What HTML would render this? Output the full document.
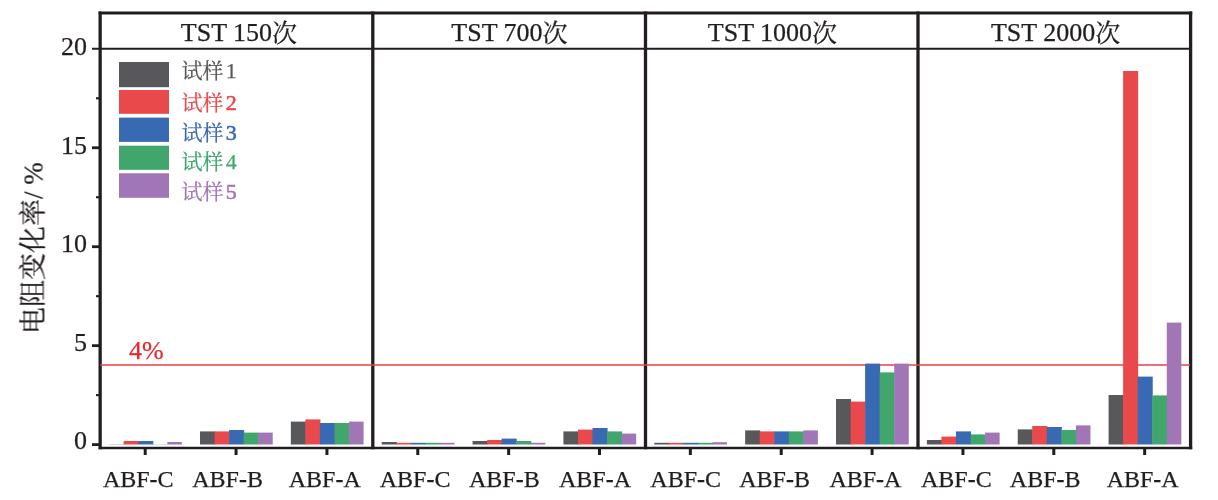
<!DOCTYPE html>
<html lang="zh"><head><meta charset="utf-8"><title>TST</title>
<style>html,body{margin:0;padding:0;background:#fff}svg{display:block}text{font-family:"Liberation Serif","Noto Serif CJK SC",serif;fill:#231f20;stroke:#231f20;stroke-width:0.25px}</style></head><body>
<svg width="1218" height="500" viewBox="0 0 1218 500">
<rect width="1218" height="500" fill="#fff"/>
<defs><filter id="soft" x="0" y="0" width="100%" height="100%" filterUnits="userSpaceOnUse"><feGaussianBlur stdDeviation="0.45"/></filter></defs><g filter="url(#soft)">
<line x1="100.15" x2="100.15" y1="11.4" y2="449.2" stroke="#231f20" stroke-width="3.3"/>
<line x1="372.8" x2="372.8" y1="11.4" y2="449.2" stroke="#231f20" stroke-width="3.3"/>
<line x1="645.5" x2="645.5" y1="11.4" y2="449.2" stroke="#231f20" stroke-width="3.3"/>
<line x1="918.0" x2="918.0" y1="11.4" y2="449.2" stroke="#231f20" stroke-width="3.3"/>
<line x1="1190.6" x2="1190.6" y1="11.4" y2="449.2" stroke="#231f20" stroke-width="3.3"/>
<line x1="98.7" x2="1192.2" y1="13" y2="13" stroke="#231f20" stroke-width="3"/>
<line x1="98.7" x2="1192.2" y1="448" y2="448" stroke="#231f20" stroke-width="2.5"/>
<line x1="92" x2="1190" y1="48.8" y2="48.8" stroke="#231f20" stroke-width="2"/>
<line x1="100.2" x2="1190" y1="365" y2="365" stroke="#ea4045" stroke-width="1.6"/>
<rect x="109.12" y="444.00" width="15.05" height="0.50" fill="#58585a" opacity="0.45"/>
<rect x="123.67" y="441.00" width="15.05" height="3.50" fill="#e9484b"/>
<rect x="138.22" y="441.00" width="15.05" height="3.50" fill="#3969b3"/>
<rect x="152.78" y="444.00" width="15.05" height="0.50" fill="#3fa66c" opacity="0.45"/>
<rect x="167.32" y="442.00" width="14.55" height="2.50" fill="#a176b6"/>
<rect x="199.99" y="431.40" width="15.05" height="13.10" fill="#58585a"/>
<rect x="214.54" y="431.40" width="15.05" height="13.10" fill="#e9484b"/>
<rect x="229.09" y="430.00" width="15.05" height="14.50" fill="#3969b3"/>
<rect x="243.64" y="432.60" width="15.05" height="11.90" fill="#3fa66c"/>
<rect x="258.19" y="432.60" width="14.55" height="11.90" fill="#a176b6"/>
<rect x="290.85" y="421.60" width="15.05" height="22.90" fill="#58585a"/>
<rect x="305.40" y="419.40" width="15.05" height="25.10" fill="#e9484b"/>
<rect x="319.95" y="423.00" width="15.05" height="21.50" fill="#3969b3"/>
<rect x="334.50" y="423.00" width="15.05" height="21.50" fill="#3fa66c"/>
<rect x="349.05" y="421.60" width="14.55" height="22.90" fill="#a176b6"/>
<rect x="381.70" y="442.00" width="15.05" height="2.50" fill="#58585a"/>
<rect x="396.25" y="442.80" width="15.05" height="1.70" fill="#e9484b"/>
<rect x="410.81" y="442.80" width="15.05" height="1.70" fill="#3969b3"/>
<rect x="425.36" y="442.80" width="15.05" height="1.70" fill="#3fa66c"/>
<rect x="439.90" y="442.80" width="14.55" height="1.70" fill="#a176b6"/>
<rect x="472.56" y="441.00" width="15.05" height="3.50" fill="#58585a"/>
<rect x="487.12" y="440.00" width="15.05" height="4.50" fill="#e9484b"/>
<rect x="501.67" y="438.60" width="15.05" height="5.90" fill="#3969b3"/>
<rect x="516.22" y="441.00" width="15.05" height="3.50" fill="#3fa66c"/>
<rect x="530.76" y="442.80" width="14.55" height="1.70" fill="#a176b6"/>
<rect x="563.42" y="431.40" width="15.05" height="13.10" fill="#58585a"/>
<rect x="577.97" y="429.60" width="15.05" height="14.90" fill="#e9484b"/>
<rect x="592.52" y="428.00" width="15.05" height="16.50" fill="#3969b3"/>
<rect x="607.07" y="431.40" width="15.05" height="13.10" fill="#3fa66c"/>
<rect x="621.62" y="433.60" width="14.55" height="10.90" fill="#a176b6"/>
<rect x="654.28" y="442.80" width="15.05" height="1.70" fill="#58585a"/>
<rect x="668.83" y="442.80" width="15.05" height="1.70" fill="#e9484b"/>
<rect x="683.38" y="442.80" width="15.05" height="1.70" fill="#3969b3"/>
<rect x="697.93" y="442.80" width="15.05" height="1.70" fill="#3fa66c"/>
<rect x="712.49" y="442.20" width="14.55" height="2.30" fill="#a176b6"/>
<rect x="745.14" y="430.40" width="15.05" height="14.10" fill="#58585a"/>
<rect x="759.69" y="431.40" width="15.05" height="13.10" fill="#e9484b"/>
<rect x="774.25" y="431.40" width="15.05" height="13.10" fill="#3969b3"/>
<rect x="788.79" y="431.40" width="15.05" height="13.10" fill="#3fa66c"/>
<rect x="803.35" y="430.40" width="14.55" height="14.10" fill="#a176b6"/>
<rect x="836.00" y="399.00" width="15.05" height="45.50" fill="#58585a"/>
<rect x="850.55" y="401.60" width="15.05" height="42.90" fill="#e9484b"/>
<rect x="865.11" y="363.60" width="15.05" height="80.90" fill="#3969b3"/>
<rect x="879.65" y="372.40" width="15.05" height="72.10" fill="#3fa66c"/>
<rect x="894.21" y="363.60" width="14.55" height="80.90" fill="#a176b6"/>
<rect x="926.87" y="440.00" width="15.05" height="4.50" fill="#58585a"/>
<rect x="941.41" y="436.60" width="15.05" height="7.90" fill="#e9484b"/>
<rect x="955.97" y="431.40" width="15.05" height="13.10" fill="#3969b3"/>
<rect x="970.51" y="434.40" width="15.05" height="10.10" fill="#3fa66c"/>
<rect x="985.07" y="432.60" width="14.55" height="11.90" fill="#a176b6"/>
<rect x="1017.72" y="429.40" width="15.05" height="15.10" fill="#58585a"/>
<rect x="1032.27" y="426.00" width="15.05" height="18.50" fill="#e9484b"/>
<rect x="1046.82" y="427.00" width="15.05" height="17.50" fill="#3969b3"/>
<rect x="1061.38" y="430.00" width="15.05" height="14.50" fill="#3fa66c"/>
<rect x="1075.92" y="425.40" width="14.55" height="19.10" fill="#a176b6"/>
<rect x="1108.59" y="395.00" width="15.05" height="49.50" fill="#58585a"/>
<rect x="1123.13" y="71.00" width="15.05" height="373.50" fill="#e9484b"/>
<rect x="1137.68" y="376.60" width="15.05" height="67.90" fill="#3969b3"/>
<rect x="1152.24" y="395.40" width="15.05" height="49.10" fill="#3fa66c"/>
<rect x="1166.79" y="322.60" width="14.55" height="121.90" fill="#a176b6"/>
<line x1="92" x2="100" y1="444.60" y2="444.60" stroke="#231f20" stroke-width="2.8"/>
<line x1="92" x2="100" y1="345.65" y2="345.65" stroke="#231f20" stroke-width="2.8"/>
<line x1="92" x2="100" y1="246.70" y2="246.70" stroke="#231f20" stroke-width="2.8"/>
<line x1="92" x2="100" y1="147.75" y2="147.75" stroke="#231f20" stroke-width="2.8"/>
<text x="87" y="449.1" font-size="26" text-anchor="end">0</text>
<text x="87" y="350.5" font-size="26" text-anchor="end">5</text>
<text x="87" y="251.8" font-size="26" text-anchor="end">10</text>
<text x="87" y="154" font-size="26" text-anchor="end">15</text>
<text x="87" y="55" font-size="26" text-anchor="end">20</text>
<line x1="96" x2="100" y1="395.12" y2="395.12" stroke="#231f20" stroke-width="2.1"/>
<line x1="96" x2="100" y1="296.18" y2="296.18" stroke="#231f20" stroke-width="2.1"/>
<line x1="96" x2="100" y1="197.23" y2="197.23" stroke="#231f20" stroke-width="2.1"/>
<line x1="96" x2="100" y1="98.28" y2="98.28" stroke="#231f20" stroke-width="2.1"/>
<line x1="145.20" x2="145.20" y1="448" y2="455" stroke="#231f20" stroke-width="3"/>
<text x="138.25" y="486.8" font-size="24" text-anchor="middle">ABF<tspan font-weight="bold">-</tspan>C</text>
<line x1="236.06" x2="236.06" y1="448" y2="455" stroke="#231f20" stroke-width="3"/>
<text x="227.60" y="486.8" font-size="24" text-anchor="middle">ABF<tspan font-weight="bold">-</tspan>B</text>
<line x1="326.92" x2="326.92" y1="448" y2="455" stroke="#231f20" stroke-width="3"/>
<text x="324.75" y="486.8" font-size="24" text-anchor="middle">ABF<tspan font-weight="bold">-</tspan>A</text>
<line x1="417.78" x2="417.78" y1="448" y2="455" stroke="#231f20" stroke-width="3"/>
<text x="415.05" y="486.8" font-size="24" text-anchor="middle">ABF<tspan font-weight="bold">-</tspan>C</text>
<line x1="508.64" x2="508.64" y1="448" y2="455" stroke="#231f20" stroke-width="3"/>
<text x="504.35" y="486.8" font-size="24" text-anchor="middle">ABF<tspan font-weight="bold">-</tspan>B</text>
<line x1="599.50" x2="599.50" y1="448" y2="455" stroke="#231f20" stroke-width="3"/>
<text x="595.00" y="486.8" font-size="24" text-anchor="middle">ABF<tspan font-weight="bold">-</tspan>A</text>
<line x1="690.36" x2="690.36" y1="448" y2="455" stroke="#231f20" stroke-width="3"/>
<text x="685.65" y="486.8" font-size="24" text-anchor="middle">ABF<tspan font-weight="bold">-</tspan>C</text>
<line x1="781.22" x2="781.22" y1="448" y2="455" stroke="#231f20" stroke-width="3"/>
<text x="774.60" y="486.8" font-size="24" text-anchor="middle">ABF<tspan font-weight="bold">-</tspan>B</text>
<line x1="872.08" x2="872.08" y1="448" y2="455" stroke="#231f20" stroke-width="3"/>
<text x="865.40" y="486.8" font-size="24" text-anchor="middle">ABF<tspan font-weight="bold">-</tspan>A</text>
<line x1="962.94" x2="962.94" y1="448" y2="455" stroke="#231f20" stroke-width="3"/>
<text x="956.30" y="486.8" font-size="24" text-anchor="middle">ABF<tspan font-weight="bold">-</tspan>C</text>
<line x1="1053.80" x2="1053.80" y1="448" y2="455" stroke="#231f20" stroke-width="3"/>
<text x="1045.20" y="486.8" font-size="24" text-anchor="middle">ABF<tspan font-weight="bold">-</tspan>B</text>
<line x1="1144.66" x2="1144.66" y1="448" y2="455" stroke="#231f20" stroke-width="3"/>
<text x="1142.65" y="486.8" font-size="24" text-anchor="middle">ABF<tspan font-weight="bold">-</tspan>A</text>
<text x="238.98" y="41.1" font-size="26" text-anchor="middle">TST 150<tspan font-size="25" dy="1.2">次</tspan></text>
<text x="509.45" y="41.1" font-size="26" text-anchor="middle">TST 700<tspan font-size="25" dy="1.2">次</tspan></text>
<text x="772.45" y="41.1" font-size="26" text-anchor="middle">TST 1000<tspan font-size="25" dy="1.2">次</tspan></text>
<text x="1055.60" y="41.1" font-size="26" text-anchor="middle">TST 2000<tspan font-size="25" dy="1.2">次</tspan></text>
<rect x="119" y="62" width="50" height="25.20" fill="#58585a"/>
<text x="181.5" y="77.7" font-size="21" style="fill:#58585a;stroke:#58585a">试样<tspan dx="2.3" font-size="22">1</tspan></text>
<rect x="119" y="90" width="50" height="23.80" fill="#e9484b"/>
<text x="181.5" y="109.6" font-size="21" style="fill:#e9484b;stroke:#e9484b">试样<tspan dx="2.3" font-size="22" style="stroke:#e9484b;stroke-width:0.6">2</tspan></text>
<rect x="119" y="117.6" width="50" height="24.30" fill="#3969b3"/>
<text x="181.5" y="140.4" font-size="21" style="fill:#3969b3;stroke:#3969b3">试样<tspan dx="2.3" font-size="22" style="stroke:#3969b3;stroke-width:0.6">3</tspan></text>
<rect x="119" y="145.7" width="50" height="24.10" fill="#3fa66c"/>
<text x="181.5" y="168.5" font-size="21" style="fill:#3fa66c;stroke:#3fa66c">试样<tspan dx="2.3" font-size="22">4</tspan></text>
<rect x="119" y="173.3" width="50" height="24.50" fill="#a176b6"/>
<text x="181.5" y="198.9" font-size="21" style="fill:#a176b6;stroke:#a176b6">试样<tspan dx="2.3" font-size="22" style="stroke:#a176b6;stroke-width:0.6">5</tspan></text>
<text x="129" y="358.9" font-size="26" style="fill:#e8282c;stroke:#e8282c">4%</text>
<text transform="translate(42.5,334) rotate(-90)" font-size="27">电阻变化率/ %</text>
</g></svg></body></html>
